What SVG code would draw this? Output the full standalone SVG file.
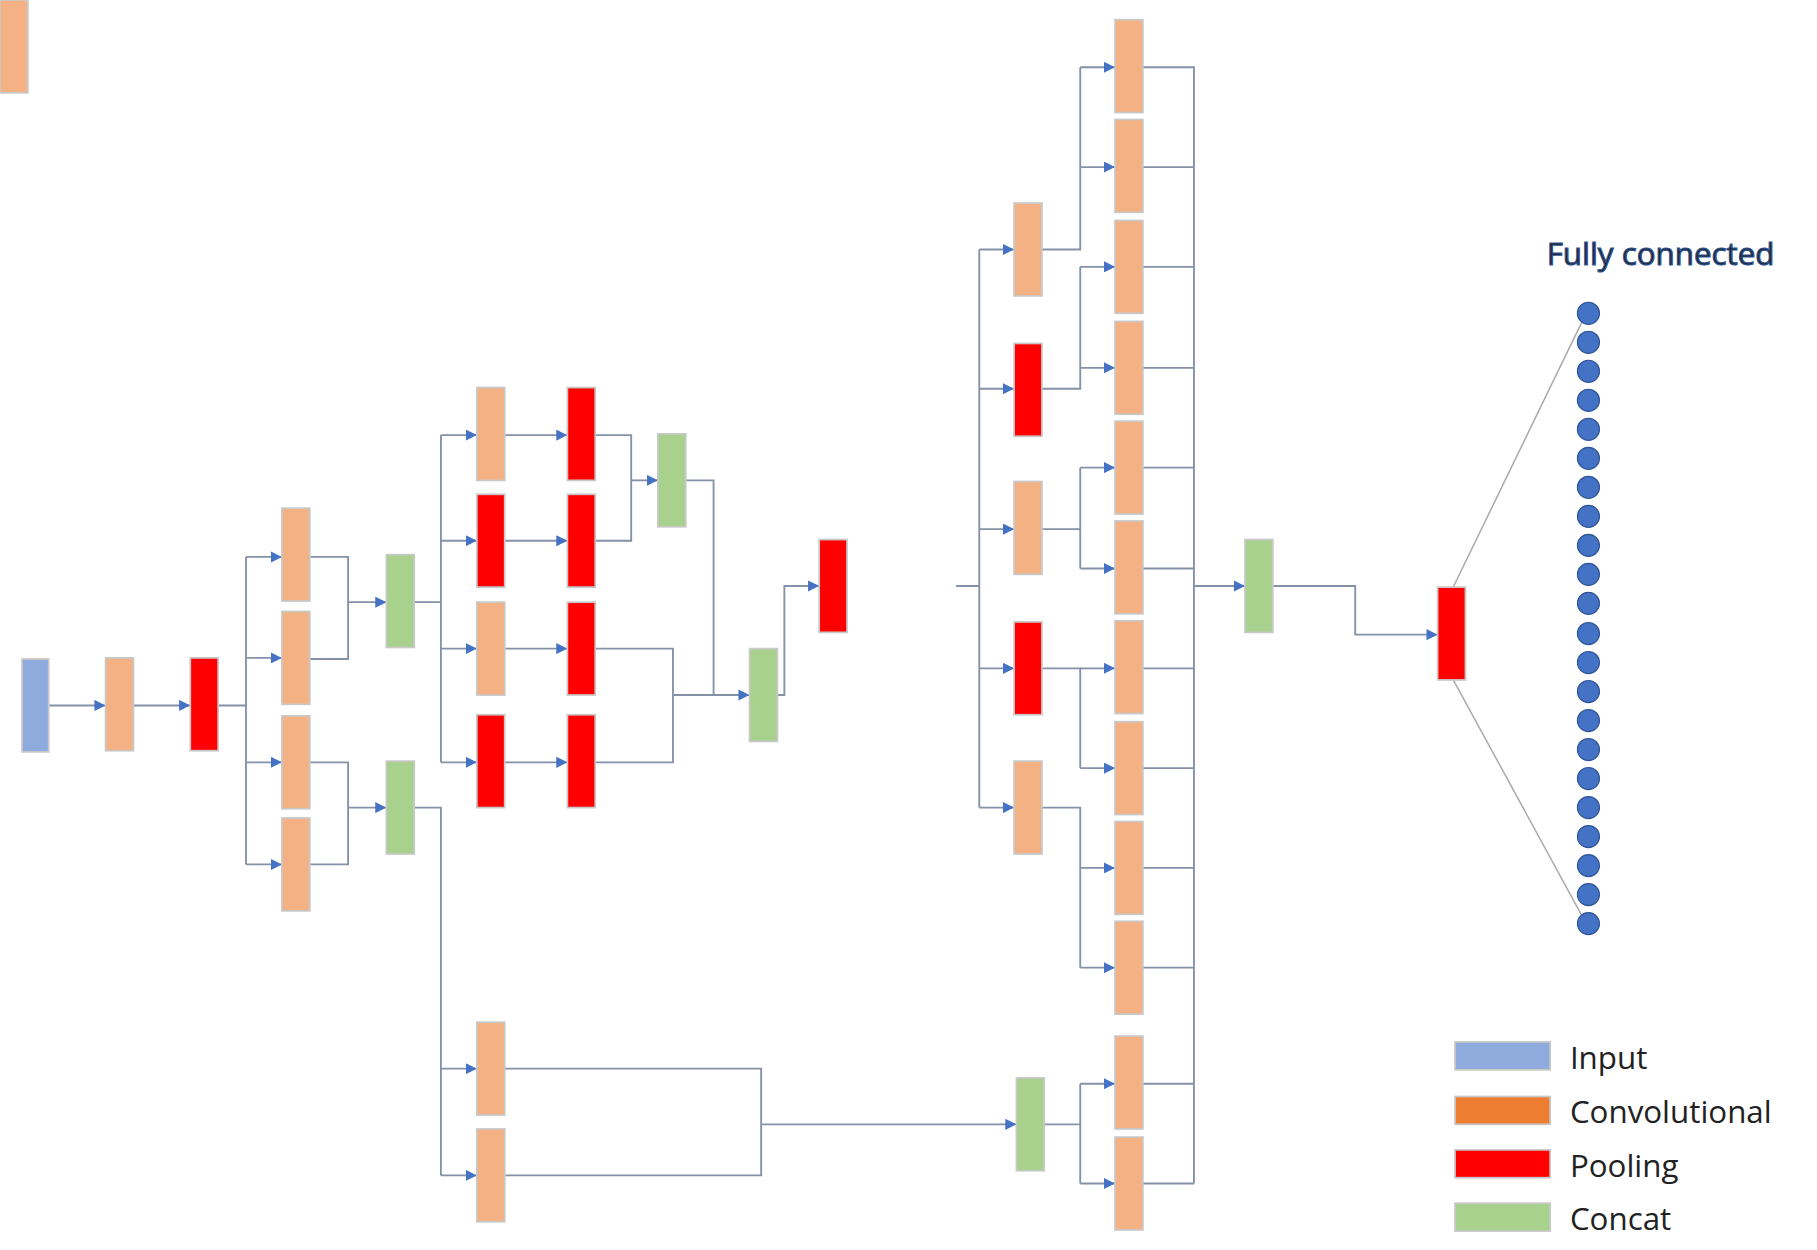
<svg xmlns="http://www.w3.org/2000/svg" width="1817" height="1250" viewBox="0 0 1817 1250">
<defs>
<style>
.n{stroke:#c8c8c8;stroke-width:1.5}
.cv{fill:#F4B183}.pl{fill:#FF0000}.cc{fill:#A9D18E}.in{fill:#8FAADC}
.e{fill:none;stroke:#8491A8;stroke-width:1.6}
.a{marker-end:url(#ar)}
.t{font-family:"Open Sans","Noto Sans",sans-serif;font-size:27px;fill:#222}
.fc{stroke:#aaa;stroke-width:1.3;fill:none}
</style>
<marker id="ar" viewBox="0 0 10 10" refX="10" refY="5" markerWidth="6" markerHeight="6" orient="auto" markerUnits="strokeWidth"><path d="M0,0L10,5L0,10z" fill="#4472C4"/></marker>
<symbol id="cv" overflow="visible"><rect class="n cv" width="24" height="80"/></symbol>
<symbol id="pl" overflow="visible"><rect class="n pl" width="24" height="80"/></symbol>
<symbol id="cc" overflow="visible"><rect class="n cc" width="24" height="80"/></symbol>
</defs>
<rect width="1817" height="1250" fill="#fff"/>
<g transform="scale(1.1603)">
<g id="connectors">
<path class="e a" d="M42,608H91"/>
<path class="e a" d="M115,608H164"/>
<path class="e" d="M187,608H212M212,480V745"/>
<path class="e a" d="M212,480H243"/><path class="e a" d="M212,567H243"/><path class="e a" d="M212,657H243"/><path class="e a" d="M212,745H243"/>
<path class="e" d="M267,480H300V568H267"/><path class="e a" d="M300,519H333"/>
<path class="e" d="M267,657H300V745H267"/><path class="e a" d="M300,696H333"/>
<path class="e" d="M357,519H380M380,375V657"/>
<path class="e a" d="M380,375H411"/><path class="e a" d="M380,466H411"/><path class="e a" d="M380,559H411"/><path class="e a" d="M380,657H411"/>
<path class="e a" d="M435,375H489"/><path class="e a" d="M435,466H489"/><path class="e a" d="M435,559H489"/><path class="e a" d="M435,657H489"/>
<path class="e" d="M513,375H544V466H513"/><path class="e a" d="M544,414H567"/>
<path class="e" d="M513,559H580V657H513"/><path class="e a" d="M580,599H646"/>
<path class="e" d="M591,414H615V599"/>
<path class="e a" d="M670,599H676V505H706"/>
<path class="e" d="M357,696H380V1013"/>
<path class="e a" d="M380,921H411"/><path class="e a" d="M380,1013H411"/>
<path class="e" d="M435,921H656V1013H435"/><path class="e a" d="M656,969H876"/>
<path class="e" d="M900,969H931M931,934V1020"/>
<path class="e a" d="M931,934H961"/><path class="e a" d="M931,1020H961"/>
<path class="e" d="M824,505H844M844,215V696"/>
<path class="e a" d="M844,215H874"/><path class="e a" d="M844,335H874"/><path class="e a" d="M844,456H874"/><path class="e a" d="M844,576H874"/><path class="e a" d="M844,696H874"/>
<path class="e" d="M898,215H931V58M931,144V215"/><path class="e a" d="M931,58H961"/><path class="e a" d="M931,144H961"/>
<path class="e" d="M898,335H931V230M931,317V335"/><path class="e a" d="M931,230H961"/><path class="e a" d="M931,317H961"/>
<path class="e" d="M898,456H931V403M931,490V456"/><path class="e a" d="M931,403H961"/><path class="e a" d="M931,490H961"/>
<path class="e" d="M898,576H931V662"/><path class="e a" d="M931,576H961"/><path class="e a" d="M931,662H961"/>
<path class="e" d="M898,696H931V834M931,748V696"/><path class="e a" d="M931,748H961"/><path class="e a" d="M931,834H961"/>
<path class="e" d="M985,58H1029V1020M985,144H1029M985,230H1029M985,317H1029M985,403H1029M985,490H1029M985,576H1029M985,662H1029M985,748H1029M985,834H1029M985,934H1029M985,1020H1029"/>
<path class="e a" d="M1029,505H1073"/>
<path class="e a" d="M1097,505H1168V547H1239"/>
<path class="fc" d="M1252,507L1366,272M1252,585L1366,794"/>
</g>
<g id="n-input"><use href="#cv"/><rect class="n in" x="19" y="568" width="23" height="80"/></g>
<g id="n-conv1"><use href="#cv" x="91" y="567"/></g>
<g id="n-pool1"><use href="#pl" x="164" y="567"/></g>
<g id="n-colA"><use href="#cv" x="243" y="438"/><use href="#cv" x="243" y="527"/><use href="#cv" x="243" y="617"/><use href="#cv" x="243" y="705"/></g>
<g id="n-concat1"><use href="#cc" x="333" y="478"/></g>
<g id="n-concat2"><use href="#cc" x="333" y="656"/></g>
<g id="n-colB"><use href="#cv" x="411" y="334"/><use href="#pl" x="411" y="426"/><use href="#cv" x="411" y="519"/><use href="#pl" x="411" y="616"/></g>
<g id="n-colC"><use href="#pl" x="489" y="334"/><use href="#pl" x="489" y="426"/><use href="#pl" x="489" y="519"/><use href="#pl" x="489" y="616"/></g>
<g id="n-concat3"><use href="#cc" x="567" y="374"/></g>
<g id="n-concat4"><use href="#cc" x="646" y="559"/></g>
<g id="n-pool2"><use href="#pl" x="706" y="465"/></g>
<g id="n-convLow"><use href="#cv" x="411" y="881"/><use href="#cv" x="411" y="973"/></g>
<g id="n-concat5"><use href="#cc" x="876" y="929"/></g>
<g id="n-colD"><use href="#cv" x="874" y="175"/><use href="#pl" x="874" y="296"/><use href="#cv" x="874" y="415"/><use href="#pl" x="874" y="536"/><use href="#cv" x="874" y="656"/></g>
<g id="n-colE"><use href="#cv" x="961" y="17"/><use href="#cv" x="961" y="103"/><use href="#cv" x="961" y="190"/><use href="#cv" x="961" y="277"/><use href="#cv" x="961" y="363"/><use href="#cv" x="961" y="449"/><use href="#cv" x="961" y="535"/><use href="#cv" x="961" y="622"/><use href="#cv" x="961" y="708"/><use href="#cv" x="961" y="794"/><use href="#cv" x="961" y="893"/><use href="#cv" x="961" y="980"/></g>
<g id="n-concat6"><use href="#cc" x="1073" y="465"/></g>
<g id="n-pool3"><use href="#pl" x="1239" y="506"/></g>
<g id="n-fc" fill="#4472C4" stroke="#2F5597" stroke-width="1">
<text class="t" x="1333" y="228">Fully connected</text>
<circle cx="1369" cy="270" r="9.5"/><circle cx="1369" cy="295" r="9.5"/><circle cx="1369" cy="320" r="9.5"/><circle cx="1369" cy="345" r="9.5"/><circle cx="1369" cy="370" r="9.5"/><circle cx="1369" cy="395" r="9.5"/><circle cx="1369" cy="420" r="9.5"/><circle cx="1369" cy="445" r="9.5"/><circle cx="1369" cy="470" r="9.5"/><circle cx="1369" cy="495" r="9.5"/><circle cx="1369" cy="520" r="9.5"/><circle cx="1369" cy="546" r="9.5"/><circle cx="1369" cy="571" r="9.5"/><circle cx="1369" cy="596" r="9.5"/><circle cx="1369" cy="621" r="9.5"/><circle cx="1369" cy="646" r="9.5"/><circle cx="1369" cy="671" r="9.5"/><circle cx="1369" cy="696" r="9.5"/><circle cx="1369" cy="721" r="9.5"/><circle cx="1369" cy="746" r="9.5"/><circle cx="1369" cy="771" r="9.5"/><circle cx="1369" cy="796" r="9.5"/>
</g>
<g id="legend">
<rect class="n in" x="1254" y="898" width="82" height="24"/><text class="t" x="1353" y="921">Input</text>
<rect class="n" fill="#ED7D31" x="1254" y="945" width="82" height="24"/><text class="t" x="1353" y="968">Convolutional</text>
<rect class="n pl" x="1254" y="991" width="82" height="24"/><text class="t" x="1353" y="1014">Pooling</text>
<rect class="n cc" x="1254" y="1037" width="82" height="24"/><text class="t" x="1353" y="1060">Concat</text>
</g>
</g>
</svg>
